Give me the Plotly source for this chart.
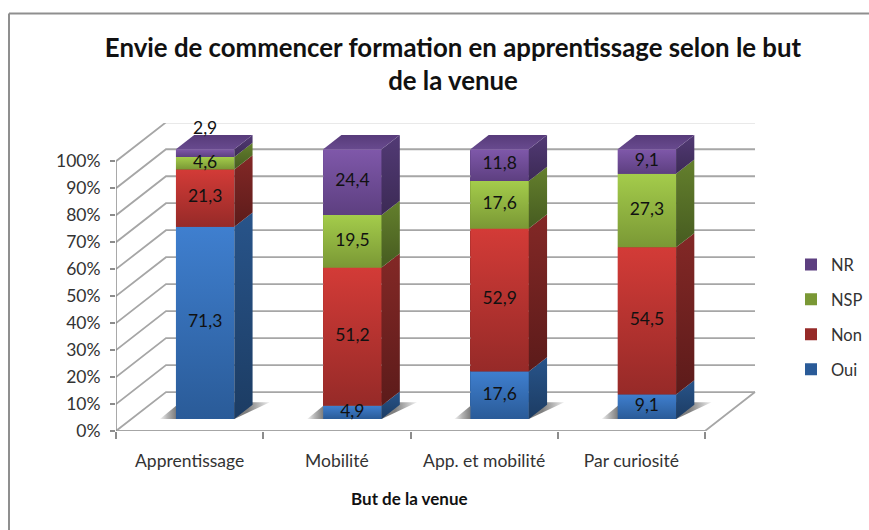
import plotly.graph_objects as go

categories = ["Apprentissage", "Mobilité", "App. et mobilité", "Par curiosité"]
oui = [71.3, 4.9, 17.6, 9.1]
non = [21.3, 51.2, 52.9, 54.5]
nsp = [4.6, 19.5, 17.6, 27.3]
nr = [2.9, 24.4, 11.8, 9.1]
percent_ticks = [0, 10, 20, 30, 40, 50, 60, 70, 80, 90, 100]

W, H = 869, 530
L, R, T, B = 116, 869, 122.7, 431       # plot area runs to the page edge so the legend sits inside it
CAT_PX, PCT_PX = 147.25, 2.7
DX, DY = 50 / CAT_PX, 39 / PCT_PX       # oblique depth vector in axis units
D0, D1 = 0.31, 0.675                    # bar depth span
BAR_W = 58.4 / CAT_PX
FONT = "Lato"

# (name, values, front top, front bottom, side top, side bottom)
series = [
    ("Oui", oui, "#3f7fcf", "#2a5b98", "#28548a", "#1c3c63"),
    ("Non", non, "#d33b37", "#962a28", "#832826", "#5c1b1a"),
    ("NSP", nsp, "#a4cc4b", "#7a9835", "#64802d", "#465b20"),
    ("NR", nr, "#7f58aa", "#5d3f80", "#523a75", "#3c2a55"),
]
GRID, AXIS = "#a6a6a6", "#8c8c8c"


def line(xs, ys, color=GRID, width=1.8):
    return go.Scatter(x=xs, y=ys, mode="lines", line=dict(color=color, width=width),
                      hoverinfo="skip", showlegend=False)


def poly(xs, ys, grad, orient="vertical"):
    return go.Scatter(x=xs + xs[:1], y=ys + ys[:1], mode="lines", line=dict(width=0),
                      fill="toself",
                      fillgradient=dict(type=orient, colorscale=grad),
                      hoverinfo="skip", showlegend=False)


fig = go.Figure()
n = len(categories)
totals = [sum(s[1][i] for s in series) for i in range(n)]

# stack positions, bottom to top
cum = [0.0] * n
stack = []
for name, vals, ft, fb, st, sb in series:
    pct = [v / t * 100 for v, t in zip(vals, totals)]
    stack.append((name, vals, pct, list(cum), ft, fb, st, sb))
    cum = [c + p for c, p in zip(cum, pct)]

# legend + base marks: real stacked bars on the front plane of each column (top series first)
for name, vals, pct, base, ft, fb, st, sb in reversed(stack):
    fig.add_trace(go.Bar(x=[i + 0.5 + D0 * DX for i in range(n)], y=pct,
                         base=[b + D0 * DY for b in base], width=BAR_W, name=name,
                         legendgroup=name, marker=dict(color=fb, line=dict(width=0)),
                         hoverinfo="skip"))

# walls and floor
for v in percent_ticks:
    fig.add_trace(line([0, DX, 4 + DX], [v, v + DY, v + DY]))
fig.add_trace(line([0, 4, 4 + DX], [0, 0, DY]))
fig.add_trace(line([0, 0], [0, 100], AXIS, 1.5))

# floor shadows
for i in range(n):
    xl = i + 0.5 - BAR_W / 2
    xr = i + 0.5 + BAR_W / 2
    sx = [xl + D0 * DX - 16 / CAT_PX, xr + D0 * DX,
          xr + 0.74 * DX + 14 / CAT_PX, xl + 0.74 * DX - 17 / CAT_PX]
    sy = [D0 * DY, D0 * DY, 0.74 * DY, 0.74 * DY]
    fig.add_trace(poly(sx, sy, [[0, "#f4f4f4"], [0.07, "#b4b4b4"], [0.15, "#7a7a7a"],
                                [0.8, "#808080"], [1, "#f0f0f0"]], "horizontal"))

# shaded faces of the columns
for name, vals, pct, base, ft, fb, st, sb in stack:
    for i in range(n):
        xl = i + 0.5 - BAR_W / 2
        xr = i + 0.5 + BAR_W / 2
        y0, y1 = base[i], base[i] + pct[i]
        ax, ay = D0 * DX, D0 * DY
        bx, by = D1 * DX, D1 * DY
        fig.add_trace(poly([xl + ax, xr + ax, xr + ax, xl + ax], [y0 + ay, y0 + ay, y1 + ay, y1 + ay],
                           [[0, fb], [1, ft]]))
        fig.add_trace(poly([xr + ax, xr + bx, xr + bx, xr + ax], [y0 + ay, y0 + by, y1 + by, y1 + ay],
                           [[0, sb], [1, st]]))
        if name == "NR":
            fig.add_trace(poly([xl + ax, xr + ax, xr + bx, xl + bx], [y1 + ay, y1 + ay, y1 + by, y1 + by],
                               [[0, "#684a8e"], [1, "#573b7a"]]))

# value labels
for name, vals, pct, base, *_ in stack:
    lx, ly, lt = [], [], []
    for i in range(n):
        y = base[i] + pct[i] / 2 + D0 * DY
        if vals[i] < 3:           # the thin top slice carries its label above the column
            y += 24 / PCT_PX
        lx.append(i + 0.5 + D0 * DX)
        ly.append(y)
        lt.append(f"{vals[i]:.1f}".replace(".", ","))
    fig.add_trace(go.Scatter(x=lx, y=ly, text=lt, mode="text", textposition="middle center",
                             textfont=dict(family=FONT, size=17.5, color="#111111"),
                             hoverinfo="skip", showlegend=False, cliponaxis=False))


def px(x):
    return (x - L) / (R - L)


def py(y):
    return (B - y) / (B - T)


fig.update_layout(
    width=W, height=H, autosize=False, template=None,
    paper_bgcolor="white", plot_bgcolor="white",
    margin=dict(l=L, r=W - R, t=T, b=H - B, pad=0),
    barmode="overlay", bargap=0,
    font=dict(family=FONT, color="#333333"),
    title=dict(text="<b>Envie de commencer formation en apprentissage selon le but<br>de la venue</b>",
               x=453 / W, xanchor="center", y=1 - 56.5 / H, yanchor="top",
               font=dict(family=FONT, size=25.8, color="#111111")),
    xaxis=dict(range=[0, (R - L) / CAT_PX], showgrid=False, zeroline=False, showline=False,
               tickmode="array", tickvals=[i + 0.5 for i in range(n)], ticktext=categories,
               ticks="", ticklabelstandoff=17, tickfont=dict(family=FONT, size=17.5, color="#333333"),
               minor=dict(tickmode="array", tickvals=[0, 1, 2, 3, 4], ticks="outside", ticklen=7,
                          tickcolor=AXIS, tickwidth=1.5)),
    yaxis=dict(range=[0, (B - T) / PCT_PX], showgrid=False, zeroline=False, showline=False,
               tickmode="array", tickvals=percent_ticks, ticktext=[f"{v}%" for v in percent_ticks],
               ticks="outside", ticklen=5, tickcolor=AXIS, tickwidth=1.5,
               ticklabelstandoff=6, tickfont=dict(family=FONT, size=17.5, color="#333333")),
    legend=dict(x=px(791), xanchor="left", y=py(247), yanchor="top", traceorder="grouped",
                entrywidth=30, entrywidthmode="pixels",
                tracegroupgap=10.5, font=dict(family=FONT, size=16.5, color="#333333"),
                bgcolor="rgba(0,0,0,0)", itemclick=False, itemdoubleclick=False),
    shapes=[
        dict(type="line", xref="paper", yref="paper", x0=px(9), x1=px(869), y0=py(13), y1=py(13),
             line=dict(color="#8f8f8f", width=2)),
        dict(type="line", xref="paper", yref="paper", x0=px(9), x1=px(9), y0=py(13), y1=py(530),
             line=dict(color="#8f8f8f", width=2)),
    ],
    annotations=[
        dict(text="<b>But de la venue</b>", xref="paper", yref="paper", x=px(409), y=py(499),
             xanchor="center", yanchor="middle", showarrow=False,
             font=dict(family=FONT, size=17, color="#111111")),
    ],
)

fig.write_html("out.html", config={"displayModeBar": False},
               post_script="document.body.style.margin='0';")
